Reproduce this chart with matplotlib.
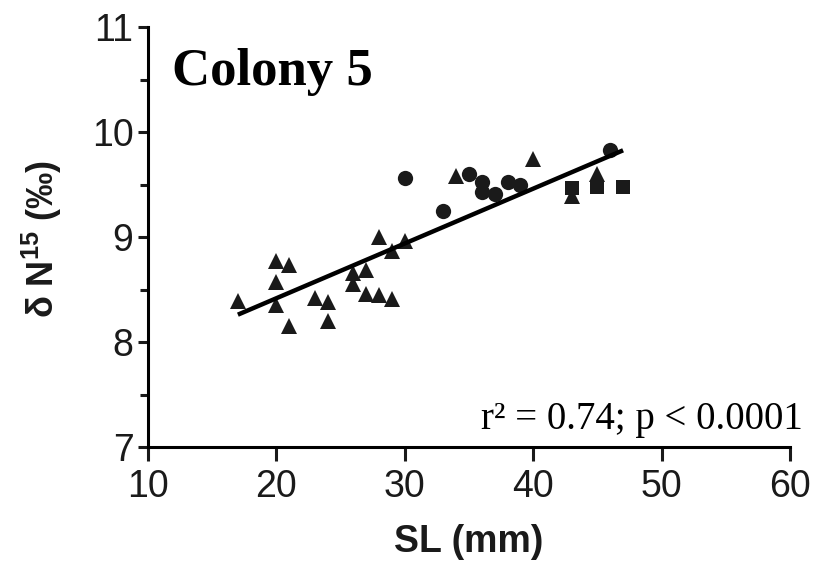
import matplotlib.pyplot as plt
import numpy as np

plt.rcParams['mathtext.fontset'] = 'custom'
plt.rcParams['mathtext.rm'] = 'Liberation Sans:bold'
plt.rcParams['mathtext.bf'] = 'Liberation Sans:bold'

# triangles
tri_x = [17, 20, 21, 20, 20, 21, 23, 24, 24, 26, 27, 26, 27, 28, 29, 28, 29, 30, 34, 40, 43, 45]
tri_y = [8.39, 8.77, 8.73, 8.57, 8.35, 8.15, 8.42, 8.38, 8.20, 8.66, 8.69, 8.55, 8.46, 8.45,
         8.41, 9.00, 8.87, 8.96, 9.58, 9.74, 9.39, 9.60]
# circles
circ_x = [30, 33, 35, 36, 36, 37, 38, 39, 46]
circ_y = [9.56, 9.25, 9.60, 9.52, 9.43, 9.41, 9.52, 9.50, 9.83]
# squares
sq_x = [43, 45, 47]
sq_y = [9.47, 9.48, 9.48]

fig = plt.figure(figsize=(8.19, 5.65), dpi=100)
ax = fig.add_axes([0.1807, 0.2088, 0.7839, 0.7434])

ax.plot(tri_x, tri_y, '^', color='#1a1a1a', ms=12, mew=0, ls='none')
ax.plot(circ_x, circ_y, 'o', color='#1a1a1a', ms=11, mew=0, ls='none')
ax.plot(sq_x, sq_y, 's', color='#1a1a1a', ms=10, mew=0, ls='none')

all_x = np.array(tri_x + circ_x + sq_x, dtype=float)
all_y = np.array(tri_y + circ_y + sq_y)
m, b = np.polyfit(all_x, all_y, 1)
xs = np.array([all_x.min(), all_x.max()])
ax.plot(xs, m * xs + b, color='black', lw=3.2, solid_capstyle='butt')

ax.set_xlim(10, 60)
ax.set_ylim(7, 11)
ax.set_xticks([10, 20, 30, 40, 50, 60])
ax.set_yticks([7, 8, 9, 10, 11])
ax.set_yticks([7.5, 8.5, 9.5, 10.5], minor=True)

for s in ['top', 'right']:
    ax.spines[s].set_visible(False)
for s in ['left', 'bottom']:
    ax.spines[s].set_linewidth(2.2)

ax.tick_params(axis='x', which='major', direction='out', length=10, width=2.2,
               labelsize=27, pad=6, colors='#1a1a1a')
ax.tick_params(axis='y', which='major', direction='out', length=7.5, width=2.2,
               labelsize=27, pad=3, colors='#1a1a1a')
ax.tick_params(axis='y', which='minor', direction='out', length=6, width=2.2, colors='#1a1a1a')
for lab in ax.get_xticklabels() + ax.get_yticklabels():
    lab.set_fontfamily('Liberation Sans')

ax.set_xlabel('SL (mm)', fontsize=27, fontweight='bold', fontfamily='Liberation Sans', color='#1a1a1a')
ax.xaxis.set_label_coords(0.5, -0.183)
ax.set_ylabel('δ N$^{15}$ (‰)', fontsize=26, fontweight='bold', fontfamily='Liberation Sans',
              color='#1a1a1a')
ax.yaxis.set_label_coords(-0.131, 0.496)

ax.text(11.9, 10.445, 'Colony 5', fontsize=38, fontweight='bold', fontfamily='Liberation Serif',
        va='baseline', ha='left')
ax.text(61.0, 7.175, 'r² = 0.74; p < 0.0001', fontsize=28, fontfamily='Liberation Serif',
        va='baseline', ha='right', clip_on=False)

fig.savefig('out.png', dpi=100)
